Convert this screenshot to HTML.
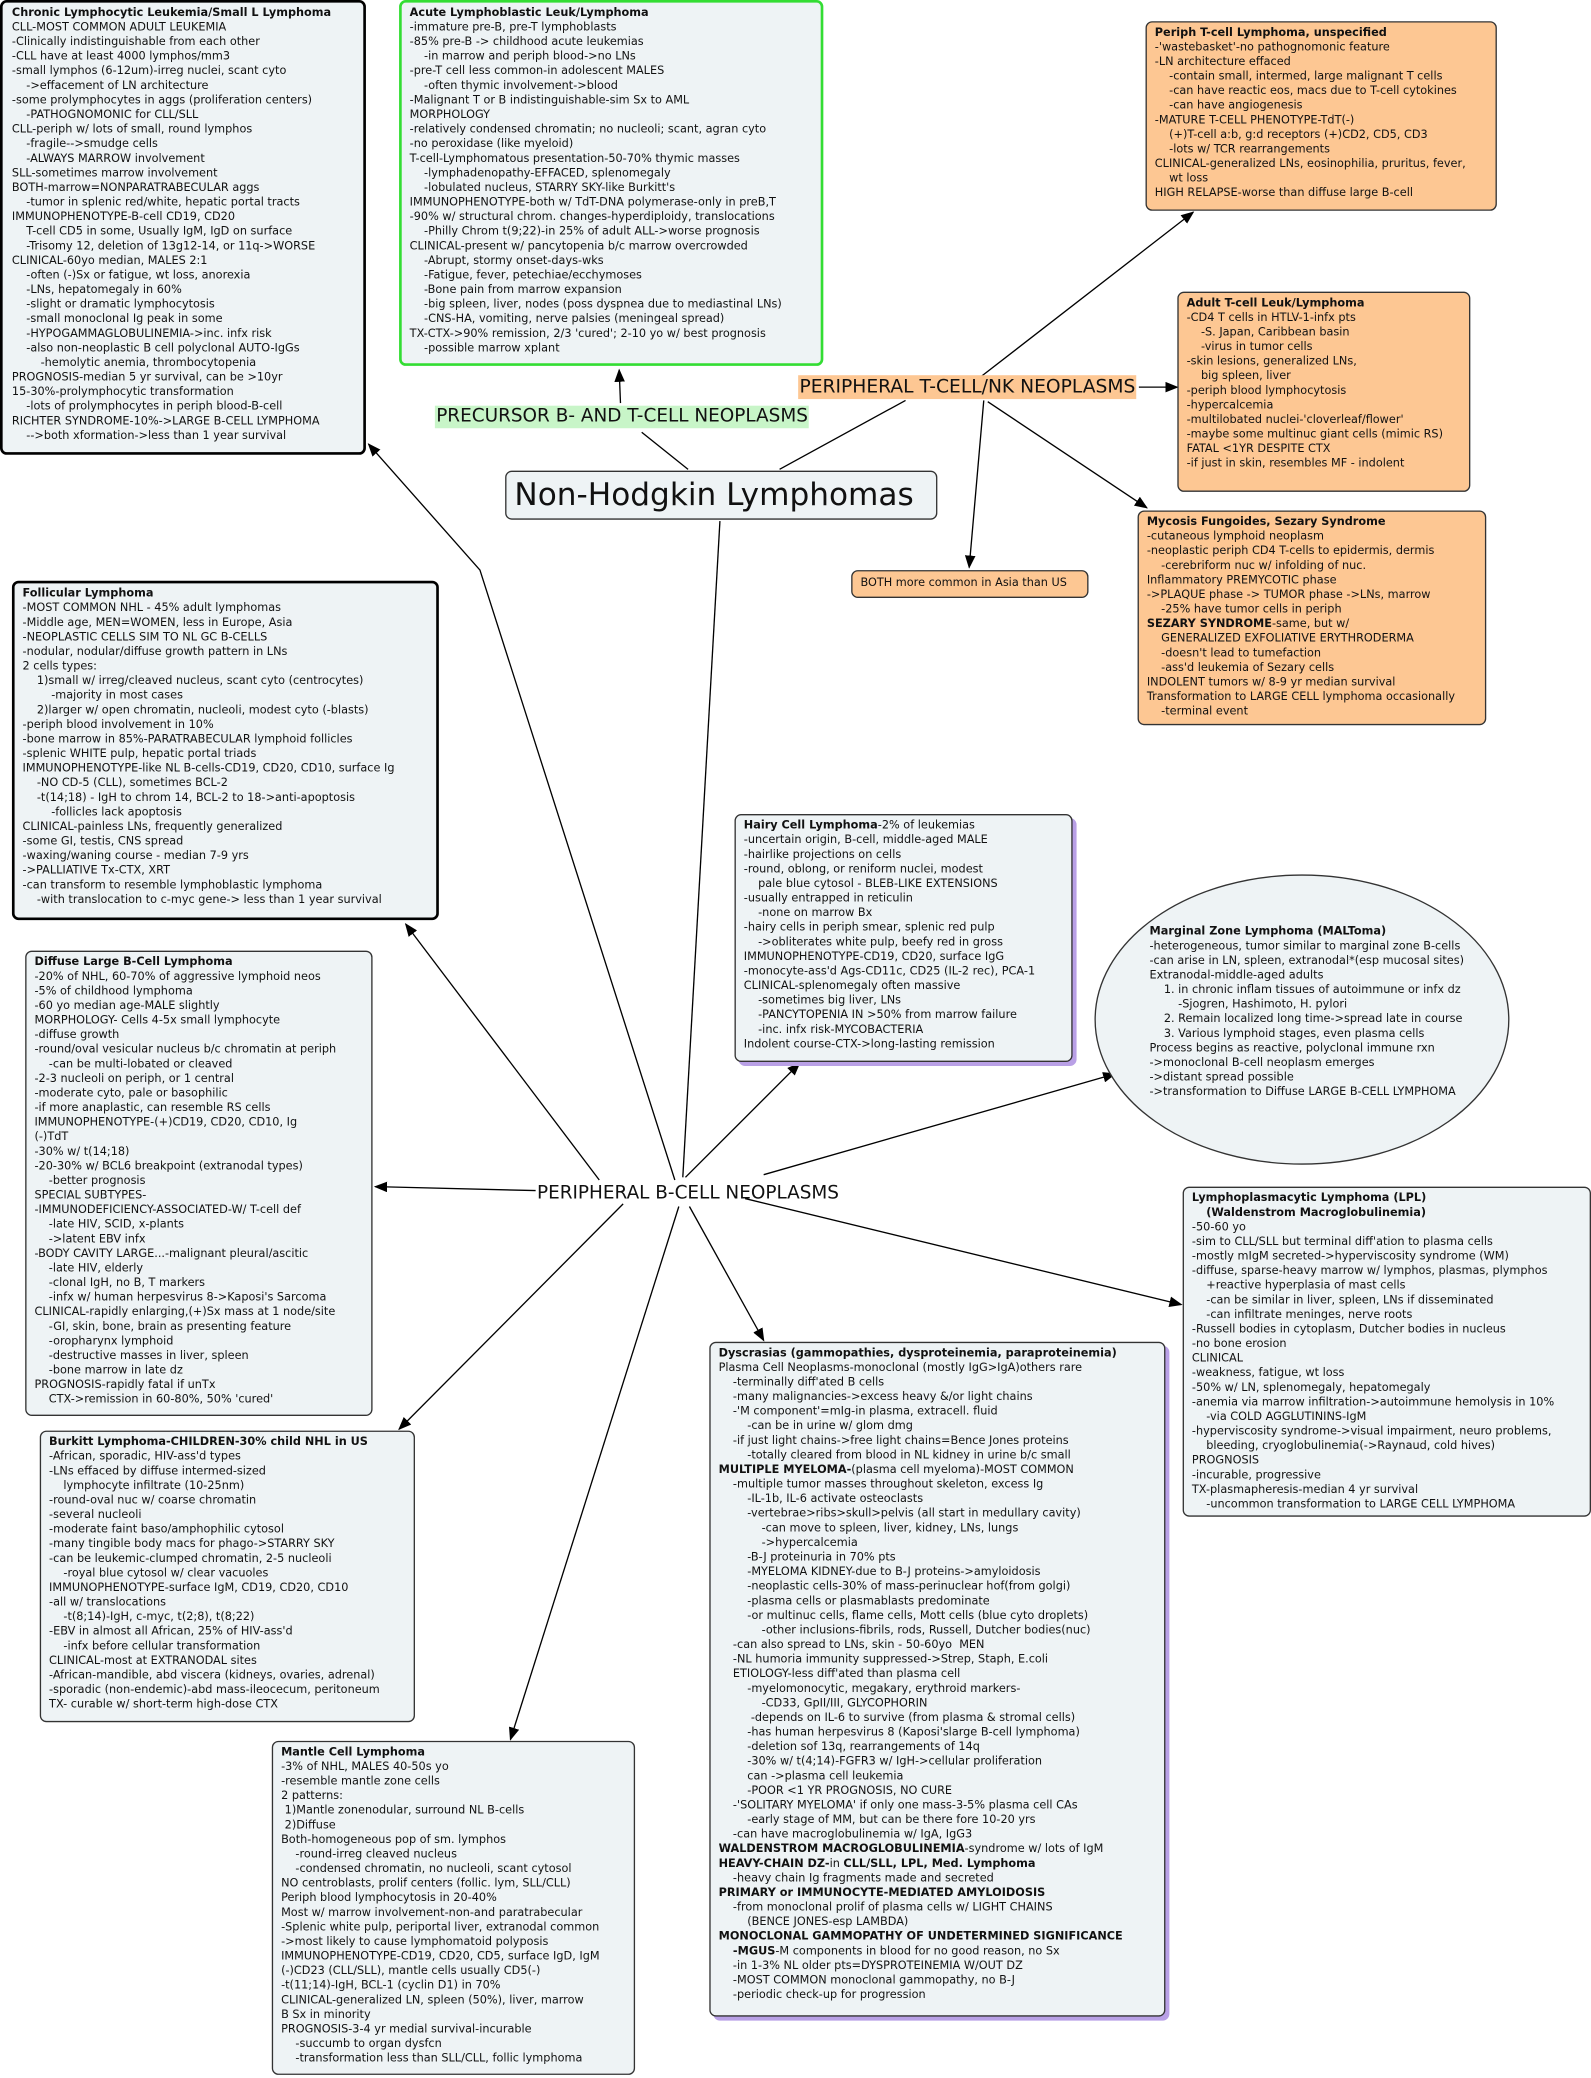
<!DOCTYPE html>
<html><head><meta charset="utf-8">
<style>
html,body{margin:0;padding:0;background:#fff;}
body{width:1591px;height:2078px;overflow:hidden;position:relative;}
#w{position:absolute;left:0;top:0;width:1200px;height:1567px;transform:scale(1.32583);transform-origin:0 0;}
.b{position:absolute;box-sizing:border-box;background:#eef3f5;border:1px solid #333;border-radius:5px;padding:3px 6px;font-family:"DejaVu Sans","Liberation Sans",sans-serif;font-size:8.5px;line-height:11px;white-space:pre;color:#111;overflow:visible;}
.b b{font-weight:bold;}
.thick{border:2.5px solid #000;}
.green{border:2.5px solid #33dd33;}
.or{background:#fdc793;}
.sh{box-shadow:3px 3px 0 #b9a0e6;}
.lbl{position:absolute;font-family:"DejaVu Sans","Liberation Sans",sans-serif;white-space:pre;color:#111;}
svg{position:absolute;left:0;top:0;}
</style></head><body><div id="w">
<svg width="1200" height="1567" viewBox="0 0 1200 1567">
<defs><marker id="a" markerWidth="10" markerHeight="8" refX="9" refY="4" orient="auto" markerUnits="userSpaceOnUse"><path d="M0,0 L10,4 L0,8 z" fill="#000"/></marker></defs>
<g stroke="#000" stroke-width="1" fill="none">
<line x1="519" y1="354" x2="484" y2="326"/>
<line x1="468" y1="304" x2="467" y2="279" marker-end="url(#a)"/>
<line x1="588" y1="354" x2="683" y2="302"/>
<line x1="543" y1="393" x2="515" y2="888"/>
<line x1="740" y1="284" x2="900" y2="160" marker-end="url(#a)"/>
<line x1="859" y1="292" x2="888" y2="292" marker-end="url(#a)"/>
<line x1="742" y1="302" x2="731" y2="428" marker-end="url(#a)"/>
<line x1="745" y1="303" x2="865" y2="383" marker-end="url(#a)"/>
<polyline points="509,890 362,430 278,335" marker-end="url(#a)"/>
<line x1="452" y1="890" x2="306" y2="697" marker-end="url(#a)"/>
<line x1="404" y1="898" x2="283" y2="895" marker-end="url(#a)"/>
<line x1="470" y1="908" x2="301" y2="1078" marker-end="url(#a)"/>
<line x1="512" y1="910" x2="385" y2="1312" marker-end="url(#a)"/>
<line x1="520" y1="910" x2="576" y2="1011" marker-end="url(#a)"/>
<line x1="517" y1="888" x2="603" y2="802" marker-end="url(#a)"/>
<line x1="576" y1="886" x2="841" y2="810" marker-end="url(#a)"/>
<line x1="562" y1="904" x2="891" y2="984" marker-end="url(#a)"/>
</g>
<ellipse cx="982" cy="769" rx="156" ry="109" fill="#eef3f5" stroke="#333" stroke-width="1"/>
</svg>

<div class="b thick" style="left:0;top:0;width:276px;height:343px;padding:3px 7px;"><b>Chronic Lymphocytic Leukemia/Small L Lymphoma</b>
CLL-MOST COMMON ADULT LEUKEMIA
-Clinically indistinguishable from each other
-CLL have at least 4000 lymphos/mm3
-small lymphos (6-12um)-irreg nuclei, scant cyto
    ->effacement of LN architecture
-some prolymphocytes in aggs (proliferation centers)
    -PATHOGNOMONIC for CLL/SLL
CLL-periph w/ lots of small, round lymphos
    -fragile-->smudge cells
    -ALWAYS MARROW involvement
SLL-sometimes marrow involvement
BOTH-marrow=NONPARATRABECULAR aggs
    -tumor in splenic red/white, hepatic portal tracts
IMMUNOPHENOTYPE-B-cell CD19, CD20
    T-cell CD5 in some, Usually IgM, IgD on surface
    -Trisomy 12, deletion of 13g12-14, or 11q->WORSE
CLINICAL-60yo median, MALES 2:1
    -often (-)Sx or fatigue, wt loss, anorexia
    -LNs, hepatomegaly in 60%
    -slight or dramatic lymphocytosis
    -small monoclonal Ig peak in some
    -HYPOGAMMAGLOBULINEMIA->inc. infx risk
    -also non-neoplastic B cell polyclonal AUTO-IgGs
        -hemolytic anemia, thrombocytopenia
PROGNOSIS-median 5 yr survival, can be >10yr
15-30%-prolymphocytic transformation
    -lots of prolymphocytes in periph blood-B-cell
RICHTER SYNDROME-10%->LARGE B-CELL LYMPHOMA
    -->both xformation->less than 1 year survival</div>

<div class="b green" style="left:301px;top:0;width:320px;height:276px;padding:3px 6px;"><b>Acute Lymphoblastic Leuk/Lymphoma</b>
-immature pre-B, pre-T lymphoblasts
-85% pre-B -> childhood acute leukemias
    -in marrow and periph blood->no LNs
-pre-T cell less common-in adolescent MALES
    -often thymic involvement->blood
-Malignant T or B indistinguishable-sim Sx to AML
MORPHOLOGY
-relatively condensed chromatin; no nucleoli; scant, agran cyto
-no peroxidase (like myeloid)
T-cell-Lymphomatous presentation-50-70% thymic masses
    -lymphadenopathy-EFFACED, splenomegaly
    -lobulated nucleus, STARRY SKY-like Burkitt's
IMMUNOPHENOTYPE-both w/ TdT-DNA polymerase-only in preB,T
-90% w/ structural chrom. changes-hyperdiploidy, translocations
    -Philly Chrom t(9;22)-in 25% of adult ALL->worse prognosis
CLINICAL-present w/ pancytopenia b/c marrow overcrowded
    -Abrupt, stormy onset-days-wks
    -Fatigue, fever, petechiae/ecchymoses
    -Bone pain from marrow expansion
    -big spleen, liver, nodes (poss dyspnea due to mediastinal LNs)
    -CNS-HA, vomiting, nerve palsies (meningeal spread)
TX-CTX->90% remission, 2/3 'cured'; 2-10 yo w/ best prognosis
    -possible marrow xplant</div>

<div class="b or" style="left:864px;top:16px;width:265px;height:143px;"><b>Periph T-cell Lymphoma, unspecified</b>
-'wastebasket'-no pathognomonic feature
-LN architecture effaced
    -contain small, intermed, large malignant T cells
    -can have reactic eos, macs due to T-cell cytokines
    -can have angiogenesis
-MATURE T-CELL PHENOTYPE-TdT(-)
    (+)T-cell a:b, g:d receptors (+)CD2, CD5, CD3
    -lots w/ TCR rearrangements
CLINICAL-generalized LNs, eosinophilia, pruritus, fever,
    wt loss
HIGH RELAPSE-worse than diffuse large B-cell</div>

<div class="b or" style="left:888px;top:220px;width:221px;height:151px;"><b>Adult T-cell Leuk/Lymphoma</b>
-CD4 T cells in HTLV-1-infx pts
    -S. Japan, Caribbean basin
    -virus in tumor cells
-skin lesions, generalized LNs,
    big spleen, liver
-periph blood lymphocytosis
-hypercalcemia
-multilobated nuclei-'cloverleaf/flower'
-maybe some multinuc giant cells (mimic RS)
FATAL &lt;1YR DESPITE CTX
-if just in skin, resembles MF - indolent</div>

<div class="b or" style="left:858px;top:385px;width:263px;height:162px;"><b>Mycosis Fungoides, Sezary Syndrome</b>
-cutaneous lymphoid neoplasm
-neoplastic periph CD4 T-cells to epidermis, dermis
    -cerebriform nuc w/ infolding of nuc.
Inflammatory PREMYCOTIC phase
->PLAQUE phase -> TUMOR phase ->LNs, marrow
    -25% have tumor cells in periph
<b>SEZARY SYNDROME</b>-same, but w/
    GENERALIZED EXFOLIATIVE ERYTHRODERMA
    -doesn't lead to tumefaction
    -ass'd leukemia of Sezary cells
INDOLENT tumors w/ 8-9 yr median survival
Transformation to LARGE CELL lymphoma occasionally
    -terminal event</div>

<div class="b or" style="left:642px;top:430px;width:179px;height:21px;padding:4px 6px;">BOTH more common in Asia than US</div>

<div class="lbl" style="left:602px;top:283px;background:#fdc793;font-size:14.1px;line-height:18px;padding:0 1px;">PERIPHERAL T-CELL/NK NEOPLASMS</div>
<div class="lbl" style="left:328px;top:306px;background:#c8f5c8;font-size:13.9px;line-height:17px;padding:0 1px;">PRECURSOR B- AND T-CELL NEOPLASMS</div>
<div class="b" style="left:381px;top:355px;width:326px;height:37px;font-size:23.5px;line-height:31px;padding:2px 6px;">Non-Hodgkin Lymphomas</div>
<div class="lbl" style="left:405px;top:891px;font-size:13.9px;line-height:18px;">PERIPHERAL B-CELL NEOPLASMS</div>

<div class="b thick" style="left:9px;top:438px;width:322px;height:256px;"><b>Follicular Lymphoma</b>
-MOST COMMON NHL - 45% adult lymphomas
-Middle age, MEN=WOMEN, less in Europe, Asia
-NEOPLASTIC CELLS SIM TO NL GC B-CELLS
-nodular, nodular/diffuse growth pattern in LNs
2 cells types:
    1)small w/ irreg/cleaved nucleus, scant cyto (centrocytes)
        -majority in most cases
    2)larger w/ open chromatin, nucleoli, modest cyto (-blasts)
-periph blood involvement in 10%
-bone marrow in 85%-PARATRABECULAR lymphoid follicles
-splenic WHITE pulp, hepatic portal triads
IMMUNOPHENOTYPE-like NL B-cells-CD19, CD20, CD10, surface Ig
    -NO CD-5 (CLL), sometimes BCL-2
    -t(14;18) - IgH to chrom 14, BCL-2 to 18->anti-apoptosis
        -follicles lack apoptosis
CLINICAL-painless LNs, frequently generalized
-some GI, testis, CNS spread
-waxing/waning course - median 7-9 yrs
->PALLIATIVE Tx-CTX, XRT
-can transform to resemble lymphoblastic lymphoma
    -with translocation to c-myc gene-> less than 1 year survival</div>

<div class="b" style="left:19px;top:717px;width:262px;height:351px;"><b>Diffuse Large B-Cell Lymphoma</b>
-20% of NHL, 60-70% of aggressive lymphoid neos
-5% of childhood lymphoma
-60 yo median age-MALE slightly
MORPHOLOGY- Cells 4-5x small lymphocyte
-diffuse growth
-round/oval vesicular nucleus b/c chromatin at periph
    -can be multi-lobated or cleaved
-2-3 nucleoli on periph, or 1 central
-moderate cyto, pale or basophilic
-if more anaplastic, can resemble RS cells
IMMUNOPHENOTYPE-(+)CD19, CD20, CD10, Ig
(-)TdT
-30% w/ t(14;18)
-20-30% w/ BCL6 breakpoint (extranodal types)
    -better prognosis
SPECIAL SUBTYPES-
-IMMUNODEFICIENCY-ASSOCIATED-W/ T-cell def
    -late HIV, SCID, x-plants
    ->latent EBV infx
-BODY CAVITY LARGE...-malignant pleural/ascitic
    -late HIV, elderly
    -clonal IgH, no B, T markers
    -infx w/ human herpesvirus 8->Kaposi's Sarcoma
CLINICAL-rapidly enlarging,(+)Sx mass at 1 node/site
    -GI, skin, bone, brain as presenting feature
    -oropharynx lymphoid
    -destructive masses in liver, spleen
    -bone marrow in late dz
PROGNOSIS-rapidly fatal if unTx
    CTX->remission in 60-80%, 50% 'cured'</div>

<div class="b" style="left:30px;top:1079px;width:283px;height:220px;"><b>Burkitt Lymphoma-CHILDREN-30% child NHL in US</b>
-African, sporadic, HIV-ass'd types
-LNs effaced by diffuse intermed-sized
    lymphocyte infiltrate (10-25nm)
-round-oval nuc w/ coarse chromatin
-several nucleoli
-moderate faint baso/amphophilic cytosol
-many tingible body macs for phago->STARRY SKY
-can be leukemic-clumped chromatin, 2-5 nucleoli
    -royal blue cytosol w/ clear vacuoles
IMMUNOPHENOTYPE-surface IgM, CD19, CD20, CD10
-all w/ translocations
    -t(8;14)-IgH, c-myc, t(2;8), t(8;22)
-EBV in almost all African, 25% of HIV-ass'd
    -infx before cellular transformation
CLINICAL-most at EXTRANODAL sites
-African-mandible, abd viscera (kidneys, ovaries, adrenal)
-sporadic (non-endemic)-abd mass-ileocecum, peritoneum
TX- curable w/ short-term high-dose CTX</div>

<div class="b" style="left:205px;top:1313px;width:274px;height:252px;"><b>Mantle Cell Lymphoma</b>
-3% of NHL, MALES 40-50s yo
-resemble mantle zone cells
2 patterns:
 1)Mantle zonenodular, surround NL B-cells
 2)Diffuse
Both-homogeneous pop of sm. lymphos
    -round-irreg cleaved nucleus
    -condensed chromatin, no nucleoli, scant cytosol
NO centroblasts, prolif centers (follic. lym, SLL/CLL)
Periph blood lymphocytosis in 20-40%
Most w/ marrow involvement-non-and paratrabecular
-Splenic white pulp, periportal liver, extranodal common
->most likely to cause lymphomatoid polyposis
IMMUNOPHENOTYPE-CD19, CD20, CD5, surface IgD, IgM
(-)CD23 (CLL/SLL), mantle cells usually CD5(-)
-t(11;14)-IgH, BCL-1 (cyclin D1) in 70%
CLINICAL-generalized LN, spleen (50%), liver, marrow
B Sx in minority
PROGNOSIS-3-4 yr medial survival-incurable
    -succumb to organ dysfcn
    -transformation less than SLL/CLL, follic lymphoma</div>

<div class="b sh" style="left:554px;top:614px;width:255px;height:187px;"><b>Hairy Cell Lymphoma</b>-2% of leukemias
-uncertain origin, B-cell, middle-aged MALE
-hairlike projections on cells
-round, oblong, or reniform nuclei, modest
    pale blue cytosol - BLEB-LIKE EXTENSIONS
-usually entrapped in reticulin
    -none on marrow Bx
-hairy cells in periph smear, splenic red pulp
    ->obliterates white pulp, beefy red in gross
IMMUNOPHENOTYPE-CD19, CD20, surface IgG
-monocyte-ass'd Ags-CD11c, CD25 (IL-2 rec), PCA-1
CLINICAL-splenomegaly often massive
    -sometimes big liver, LNs
    -PANCYTOPENIA IN >50% from marrow failure
    -inc. infx risk-MYCOBACTERIA
Indolent course-CTX->long-lasting remission</div>

<div class="b" style="left:860px;top:695px;width:270px;height:145px;background:transparent;border:none;padding:3px 0 0 7px;"><b>Marginal Zone Lymphoma (MALToma)</b>
-heterogeneous, tumor similar to marginal zone B-cells
-can arise in LN, spleen, extranodal*(esp mucosal sites)
Extranodal-middle-aged adults
    1. in chronic inflam tissues of autoimmune or infx dz
        -Sjogren, Hashimoto, H. pylori
    2. Remain localized long time->spread late in course
    3. Various lymphoid stages, even plasma cells
Process begins as reactive, polyclonal immune rxn
->monoclonal B-cell neoplasm emerges
->distant spread possible
->transformation to Diffuse LARGE B-CELL LYMPHOMA</div>

<div class="b" style="left:892px;top:895px;width:308px;height:249px;"><b>Lymphoplasmacytic Lymphoma (LPL)</b>
    <b>(Waldenstrom Macroglobulinemia)</b>
-50-60 yo
-sim to CLL/SLL but terminal diff'ation to plasma cells
-mostly mIgM secreted->hyperviscosity syndrome (WM)
-diffuse, sparse-heavy marrow w/ lymphos, plasmas, plymphos
    +reactive hyperplasia of mast cells
    -can be similar in liver, spleen, LNs if disseminated
    -can infiltrate meninges, nerve roots
-Russell bodies in cytoplasm, Dutcher bodies in nucleus
-no bone erosion
CLINICAL
-weakness, fatigue, wt loss
-50% w/ LN, splenomegaly, hepatomegaly
-anemia via marrow infiltration->autoimmune hemolysis in 10%
    -via COLD AGGLUTININS-IgM
-hyperviscosity syndrome->visual impairment, neuro problems,
    bleeding, cryoglobulinemia(->Raynaud, cold hives)
PROGNOSIS
-incurable, progressive
TX-plasmapheresis-median 4 yr survival
    -uncommon transformation to LARGE CELL LYMPHOMA</div>

<div class="b sh" style="left:535px;top:1012px;width:344px;height:509px;"><b>Dyscrasias (gammopathies, dysproteinemia, paraproteinemia)</b>
Plasma Cell Neoplasms-monoclonal (mostly IgG>IgA)others rare
    -terminally diff'ated B cells
    -many malignancies->excess heavy &amp;/or light chains
    -'M component'=mIg-in plasma, extracell. fluid
        -can be in urine w/ glom dmg
    -if just light chains->free light chains=Bence Jones proteins
        -totally cleared from blood in NL kidney in urine b/c small
<b>MULTIPLE MYELOMA-</b>(plasma cell myeloma)-MOST COMMON
    -multiple tumor masses throughout skeleton, excess Ig
        -IL-1b, IL-6 activate osteoclasts
        -vertebrae>ribs>skull>pelvis (all start in medullary cavity)
            -can move to spleen, liver, kidney, LNs, lungs
            ->hypercalcemia
        -B-J proteinuria in 70% pts
        -MYELOMA KIDNEY-due to B-J proteins->amyloidosis
        -neoplastic cells-30% of mass-perinuclear hof(from golgi)
        -plasma cells or plasmablasts predominate
        -or multinuc cells, flame cells, Mott cells (blue cyto droplets)
            -other inclusions-fibrils, rods, Russell, Dutcher bodies(nuc)
    -can also spread to LNs, skin - 50-60yo  MEN
    -NL humoria immunity suppressed->Strep, Staph, E.coli
    ETIOLOGY-less diff'ated than plasma cell
        -myelomonocytic, megakary, erythroid markers-
            -CD33, GpII/III, GLYCOPHORIN
         -depends on IL-6 to survive (from plasma &amp; stromal cells)
        -has human herpesvirus 8 (Kaposi'slarge B-cell lymphoma)
        -deletion sof 13q, rearrangements of 14q
        -30% w/ t(4;14)-FGFR3 w/ IgH->cellular proliferation
        can ->plasma cell leukemia
        -POOR &lt;1 YR PROGNOSIS, NO CURE
    -'SOLITARY MYELOMA' if only one mass-3-5% plasma cell CAs
        -early stage of MM, but can be there fore 10-20 yrs
    -can have macroglobulinemia w/ IgA, IgG3
<b>WALDENSTROM MACROGLOBULINEMIA</b>-syndrome w/ lots of IgM
<b>HEAVY-CHAIN DZ-</b>in <b>CLL/SLL, LPL, Med. Lymphoma</b>
    -heavy chain Ig fragments made and secreted
<b>PRIMARY or IMMUNOCYTE-MEDIATED AMYLOIDOSIS</b>
    -from monoclonal prolif of plasma cells w/ LIGHT CHAINS
        (BENCE JONES-esp LAMBDA)
<b>MONOCLONAL GAMMOPATHY OF UNDETERMINED SIGNIFICANCE</b>
    <b>-MGUS</b>-M components in blood for no good reason, no Sx
    -in 1-3% NL older pts=DYSPROTEINEMIA W/OUT DZ
    -MOST COMMON monoclonal gammopathy, no B-J
    -periodic check-up for progression</div>
</div></body></html>
